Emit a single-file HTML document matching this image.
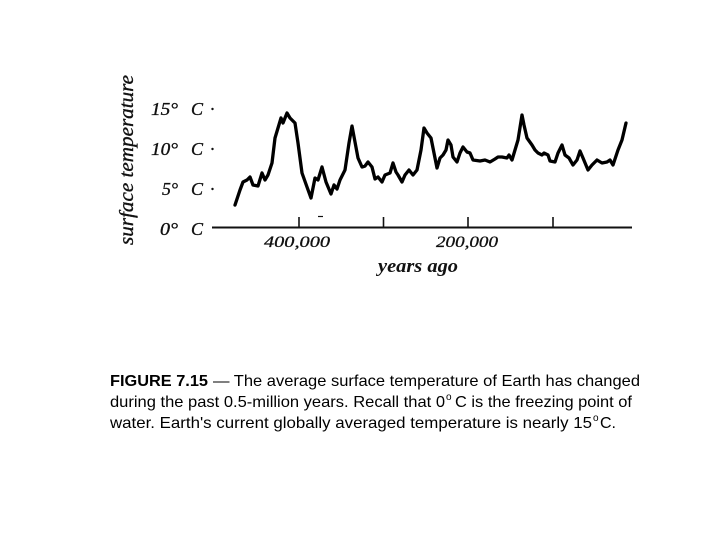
<!DOCTYPE html>
<html>
<head>
<meta charset="utf-8">
<style>
  html, body { margin:0; padding:0; background:#fff; }
  svg { display:block; }
</style>
</head>
<body>
<svg width="720" height="540" viewBox="0 0 720 540" xmlns="http://www.w3.org/2000/svg">
  <rect width="720" height="540" fill="#fff"/>

  <!-- Y axis title -->
  <text transform="translate(133,160) rotate(-90)" text-anchor="middle" font-family="Liberation Serif, serif" font-style="italic" font-size="20" textLength="170" lengthAdjust="spacingAndGlyphs" fill="#111" stroke="#111" stroke-width="0.35">surface temperature</text>

  <!-- Y labels -->
  <g font-family="Liberation Serif, serif" font-style="italic" font-size="18" fill="#111" stroke="#111" stroke-width="0.35">
    <text x="151" y="115" textLength="27" lengthAdjust="spacingAndGlyphs">15°</text>
    <text x="191" y="115">C</text>
    <text x="151" y="155" textLength="27" lengthAdjust="spacingAndGlyphs">10°</text>
    <text x="191" y="155">C</text>
    <text x="162" y="195" textLength="16" lengthAdjust="spacingAndGlyphs">5°</text>
    <text x="191" y="195">C</text>
    <text x="160" y="235" textLength="18" lengthAdjust="spacingAndGlyphs">0°</text>
    <text x="191" y="235">C</text>
  </g>
  <g fill="#111">
    <circle cx="212.5" cy="109" r="1.2"/>
    <circle cx="212.5" cy="149" r="1.2"/>
    <circle cx="212.5" cy="189" r="1.2"/>
  </g>

  <!-- X axis -->
  <line x1="212" y1="227.5" x2="632" y2="227.5" stroke="#111" stroke-width="2"/>
  <g stroke="#111" stroke-width="1.6">
    <line x1="299" y1="217" x2="299" y2="227"/>
    <line x1="383.5" y1="217" x2="383.5" y2="227"/>
    <line x1="468" y1="217" x2="468" y2="227"/>
    <line x1="553" y1="217" x2="553" y2="227"/>
    <line x1="318" y1="216.5" x2="323" y2="216.5" stroke-width="1.2"/>
  </g>

  <g font-family="Liberation Serif, serif" font-style="italic" font-size="16" fill="#111" stroke="#111" stroke-width="0.3">
    <text x="264" y="247" textLength="66" lengthAdjust="spacingAndGlyphs">400,000</text>
    <text x="436" y="247" textLength="62" lengthAdjust="spacingAndGlyphs">200,000</text>
  </g>
  <text x="378" y="272" font-family="Liberation Serif, serif" font-style="italic" font-weight="bold" font-size="19" textLength="80" lengthAdjust="spacingAndGlyphs" fill="#111">years ago</text>

  <!-- Curve -->
  <polyline fill="none" stroke="#000" stroke-width="3.3" stroke-linejoin="round" stroke-linecap="round"
    points="235,205 240,190 243,182 247,180 250,177 253,185 258,186 262,173 265,180 268,175 272,163 275,138 278,128 281,118 283,123 287,113 290,118 295,123 298,143 302,173 307,187 311,198 315,178 318,180 322,167 326,182 331,194 334,185 337,189 340,180 345,170 349,143 352,126 355,142 358,158 362,167 365,166 368,162 372,167 375,179 378,177 382,182 385,175 390,173 393,163 396,172 398,175 402,182 405,175 409,170 413,175 417,170 421,150 424,128 427,133 431,138 434,153 437,168 440,158 443,155 446,150 448,140 451,145 453,157 457,162 460,153 463,147 467,152 470,153 473,160 480,161 485,160 490,162 495,159 498,157 502,157 507,158 509,155 512,160 515,150 518,140 522,115 524,125 527,138 532,145 535,150 538,153 542,155 544,153 548,155 550,161 555,162 558,153 562,145 565,155 569,158 573,165 577,160 580,151 583,158 588,170 592,165 597,160 602,163 607,162 610,160 613,165 618,150 622,140 626,123"/>

  <!-- Caption -->
  <g font-family="Liberation Sans, sans-serif" font-size="16" fill="#000">
    <text x="110" y="386" font-weight="bold" textLength="98" lengthAdjust="spacingAndGlyphs">FIGURE 7.15</text>
    <text x="213" y="386" textLength="427" lengthAdjust="spacingAndGlyphs">— The average surface temperature of Earth has changed</text>

    <text x="110" y="407" textLength="335" lengthAdjust="spacingAndGlyphs">during the past 0.5-million years. Recall that 0</text>
    <text x="446" y="400" font-size="10">o</text>
    <text x="455" y="407" textLength="177" lengthAdjust="spacingAndGlyphs">C is the freezing point of</text>

    <text x="110" y="428" textLength="482" lengthAdjust="spacingAndGlyphs">water. Earth's current globally averaged temperature is nearly 15</text>
    <text x="593" y="421" font-size="10">o</text>
    <text x="600" y="428">C.</text>
  </g>
</svg>
</body>
</html>
